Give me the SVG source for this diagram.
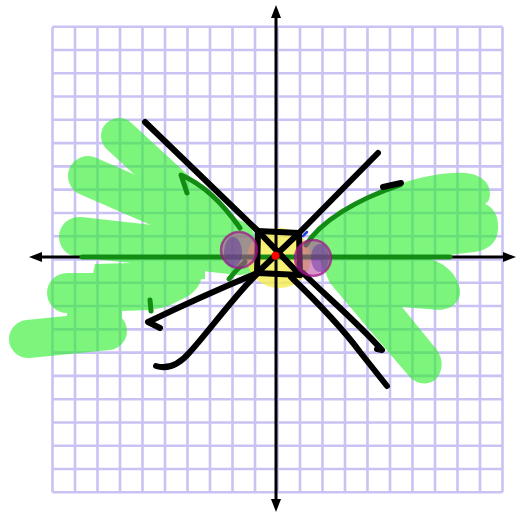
<svg xmlns="http://www.w3.org/2000/svg" width="519" height="518" viewBox="0 0 519 518">
<style>
.grid{stroke:#c9c3f4;stroke-width:2.6;fill:none}
.gs{stroke:#28f028;fill:none;stroke-linecap:round;stroke-linejoin:round}
.gf{fill:#28f028;stroke:none}
.axis{stroke:#000;stroke-width:3;fill:none}
.ah{fill:#000}
.dg{stroke:#128c12;stroke-width:5;fill:none;stroke-linecap:round;stroke-linejoin:round}
.bk{stroke:#000;stroke-width:6;fill:none;stroke-linecap:round;stroke-linejoin:round}
.pc{fill:#b8409e;fill-opacity:0.55;stroke:#a0108a;stroke-width:2.5;stroke-opacity:0.7}
.pi{fill:#5a2aa0;fill-opacity:0.45}
</style>
<rect width="519" height="518" fill="#fff"/>
<g id="grid">
<path class="grid" d="M52.5 26.7V492.3M75 26.7V492.3M97.5 26.7V492.3M120 26.7V492.3M142.5 26.7V492.3M165 26.7V492.3M187.5 26.7V492.3M210 26.7V492.3M232.5 26.7V492.3M255 26.7V492.3M277.5 26.7V492.3M300 26.7V492.3M322.5 26.7V492.3M345 26.7V492.3M367.5 26.7V492.3M390 26.7V492.3M412.5 26.7V492.3M435 26.7V492.3M457.5 26.7V492.3M480 26.7V492.3M502.5 26.7V492.3"/>
<path class="grid" d="M52.5 26.7H502.5M52.5 49.98H502.5M52.5 73.26H502.5M52.5 96.54H502.5M52.5 119.82H502.5M52.5 143.1H502.5M52.5 166.38H502.5M52.5 189.66H502.5M52.5 212.94H502.5M52.5 236.22H502.5M52.5 259.5H502.5M52.5 282.78H502.5M52.5 306.06H502.5M52.5 329.34H502.5M52.5 352.62H502.5M52.5 375.9H502.5M52.5 399.18H502.5M52.5 422.46H502.5M52.5 445.74H502.5M52.5 469.02H502.5M52.5 492.3H502.5"/>
</g>
<g id="shading-left" opacity="0.6">
<path class="gs" stroke-width="36" d="M119 136L232 240"/>
<path class="gs" stroke-width="40" d="M88 176L235 240"/>
<path class="gs" stroke-width="40" d="M79 237L240 255"/>
<path class="gf" d="M95 264L205 261L205 279L92 279Z"/>
<path class="gf" d="M67 273L200 273C205 280 195 295 180 300C170 306 160 309 150 310L67 313A20 20 0 0 1 67 273Z"/>
<rect class="gf" x="67" y="300" width="55" height="25"/>
<path class="gs" stroke-width="38" d="M28 339L108 331"/>
</g>
<g id="shading-right" opacity="0.6">
<path class="gf" d="M305 257L306 245C320 222 355 200 400 184C420 177 445 172 465 173C480 174 490 182 490 194C490 200 487 203 485 204C495 208 499 218 498 230C497 243 488 250 475 252L430 257Z"/>
<path class="gf" d="M318 257L428 258C445 263 458 275 460 290C461 302 452 309 440 310L402 307L437 350C444 360 443 372 435 380C427 386 415 384 408 375L367 327L330 283C325 272 322 264 318 257Z"/>
</g>
<g id="center-fill">
<ellipse cx="279" cy="258" rx="32" ry="30" fill="#f5ee50" fill-opacity="0.8"/>
</g>
<g id="axes">
<path class="axis" d="M40 257H505M276 16V500"/>
<polygon class="ah" points="29,257 42,252 42,262"/>
<polygon class="ah" points="516,257 503,252 503,262"/>
<polygon class="ah" points="276,5 271,18 281,18"/>
<polygon class="ah" points="276,512 271,499 281,499"/>
</g>
<g id="connectors">
<path class="dg" d="M82 257H450"/>
<path class="dg" d="M240 228Q212 188 181 175L187 193"/>
<path class="dg" d="M306 245C320 222 355 200 400 185"/>
<path class="dg" d="M150 300L151 311"/>
<path class="dg" d="M229 279Q236 270 245 262"/>
<path d="M303 236L307 232" stroke="#2040e0" stroke-width="2.5" stroke-linecap="round"/>
<path class="bk" d="M145 122L258 231"/>
<path class="bk" d="M378 153L299 233"/>
<path class="bk" d="M383 187L401 183"/>
<path class="bk" stroke-width="7" d="M258 231L299 233L300 275L257 273Z"/>
<path class="bk" stroke-width="5" d="M258 231L300 275M299 233L257 273"/>
<path class="bk" d="M257 273Q200 297 148 322L160 328"/>
<path class="bk" d="M257 274C235 295 210 330 190 352C178 366 166 369 156 366"/>
<path class="bk" d="M291 277C315 300 340 325 360 352L387 386"/>
<path class="bk" d="M303 273C325 295 355 320 382 350L377 349"/>
</g>
<g id="hole-left">
<circle class="pc" cx="239" cy="250" r="18"/>
<ellipse class="pi" cx="233" cy="252" rx="9" ry="15"/>
</g>
<g id="hole-right">
<circle class="pc" cx="313" cy="258" r="18"/>
<ellipse class="pi" cx="320" cy="258" rx="9" ry="14"/>
</g>
<g id="center-point">
<circle cx="275.5" cy="255.7" r="4" fill="#ff0000"/>
</g>
</svg>
